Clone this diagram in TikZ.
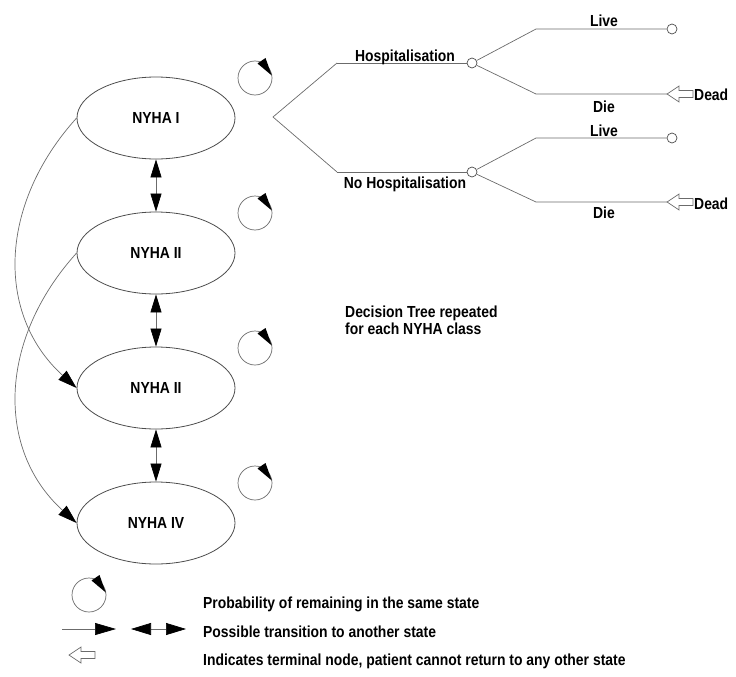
\documentclass[tikz,border=0pt]{standalone}
\usepackage{fontspec}
\setmainfont{Liberation Sans}[FakeStretch=0.87]
\usetikzlibrary{shapes.geometric,arrows.meta}
\definecolor{ln}{gray}{0.42}
\definecolor{el}{gray}{0.3}
\tikzset{
  lbl/.style={font=\fontsize{16}{17}\selectfont\bfseries, inner sep=0pt},
  state/.style={ellipse, draw=el, line width=0.8pt, minimum width=158pt, minimum height=82pt, inner sep=0pt, font=\fontsize{16}{17}\selectfont\bfseries},
  wire/.style={draw=ln, line width=0.7pt},
  tc/.style={circle, draw=el, line width=0.7pt, minimum size=10pt, inner sep=0pt},
  arr/.style={wire, -{Triangle[length=19pt,width=12pt,color=black]}},
  dbl/.style={wire, {Triangle[length=18pt,width=11pt,color=black]}-{Triangle[length=18pt,width=11pt,color=black]}},
  hollow/.style={draw=ln, line width=0.7pt, fill=white, line join=miter},
  selfloop/.pic={
    \draw[wire] (0,0) circle[radius=17];
    \fill[black] (16.8,-2.5) -- (2.5,-14.5) -- (10.5,-20) -- cycle;
  },
  hollowarr/.pic={
    \draw[hollow] (0,0) -- (12,-8) -- (12,-3.5) -- (26,-3.5) -- (26,3.5) -- (12,3.5) -- (12,8) -- cycle;
  }
}
\begin{document}
\begin{tikzpicture}[x=1pt,y=-1pt]
\useasboundingbox (0,0) rectangle (736,677);

% states
\node[state] (n1) at (156,118) {NYHA I};
\node[state] (n2) at (156,253) {NYHA II};
\node[state] (n3) at (156,388) {NYHA II};
\node[state] (n4) at (156,523) {NYHA IV};

\draw[dbl] (n1) -- (n2);
\draw[dbl] (n2) -- (n3);
\draw[dbl] (n3) -- (n4);

\draw[arr] (n1.west) .. controls (-2,205) and (-4,315) .. (n3.west);
\draw[arr] (n2.west) .. controls (-2,340) and (-4,450) .. (n4.west);

% self loops
\coordinate (L1) at (255,78);
\coordinate (L2) at (255,213);
\coordinate (L3) at (255,348);
\coordinate (L4) at (255,483);
\pic at (L1) {selfloop};
\pic at (L2) {selfloop};
\pic at (L3) {selfloop};
\pic at (L4) {selfloop};

% decision tree
\coordinate (root) at (273,117);
\coordinate (hb) at (337,63);
\coordinate (nb) at (337,172);
\node[tc] (hc) at (472,63) {};
\node[tc] (nc) at (472,172) {};
\coordinate (hl) at (536,29);
\node[tc] (hle) at (672,29) {};
\coordinate (hd) at (536,94);
\coordinate (hde) at (667,94);
\coordinate (nl) at (536,138);
\node[tc] (nle) at (672,138) {};
\coordinate (nd) at (536,202);
\coordinate (nde) at (667,202);

\draw[wire] (hb) -- (root) -- (nb);
\draw[wire] (hb) -- (hc);
\draw[wire] (nb) -- (nc);
\draw[wire] (hc) -- (hl) -- (hle);
\draw[wire] (hc) -- (hd) -- (hde);
\draw[wire] (nc) -- (nl) -- (nle);
\draw[wire] (nc) -- (nd) -- (nde);
\pic at (hde) {hollowarr};
\pic at (nde) {hollowarr};

\node[lbl, anchor=base] (tH) at (405,62) {Hospitalisation};
\node[lbl, anchor=base] (tN) at (405,188) {No Hospitalisation};
\node[lbl, anchor=base] (tL1) at (604,27) {Live};
\node[lbl, anchor=base] (tD1) at (604,112) {Die};
\node[lbl, anchor=base] (tL2) at (604,136) {Live};
\node[lbl, anchor=base] (tD2) at (604,218) {Die};
\node[lbl, anchor=base west] (tX1) at (694,100) {Dead};
\node[lbl, anchor=base west] (tX2) at (694,209) {Dead};

\node[lbl, anchor=west, align=left] (rep) at (345,320.7) {Decision Tree repeated\\for each NYHA class};

% legend
\coordinate (LG) at (89,595);
\pic at (LG) {selfloop};
\coordinate (la1) at (62,629);
\coordinate (la2) at (116,629);
\draw[wire, -{Triangle[length=21pt,width=12pt,color=black]}] (la1) -- (la2);
\coordinate (lb1) at (131,629);
\coordinate (lb2) at (186,629);
\draw[wire, {Triangle[length=20pt,width=12pt,color=black]}-{Triangle[length=20pt,width=12pt,color=black]}] (lb1) -- (lb2);
\coordinate (lc) at (69,655);
\pic at (lc) {hollowarr};

\node[lbl, anchor=base west] (g1) at (203,608) {Probability of remaining in the same state};
\node[lbl, anchor=base west] (g2) at (203,637) {Possible transition to another state};
\node[lbl, anchor=base west] (g3) at (203,665) {Indicates terminal node, patient cannot return to any other state};
\end{tikzpicture}
\end{document}
